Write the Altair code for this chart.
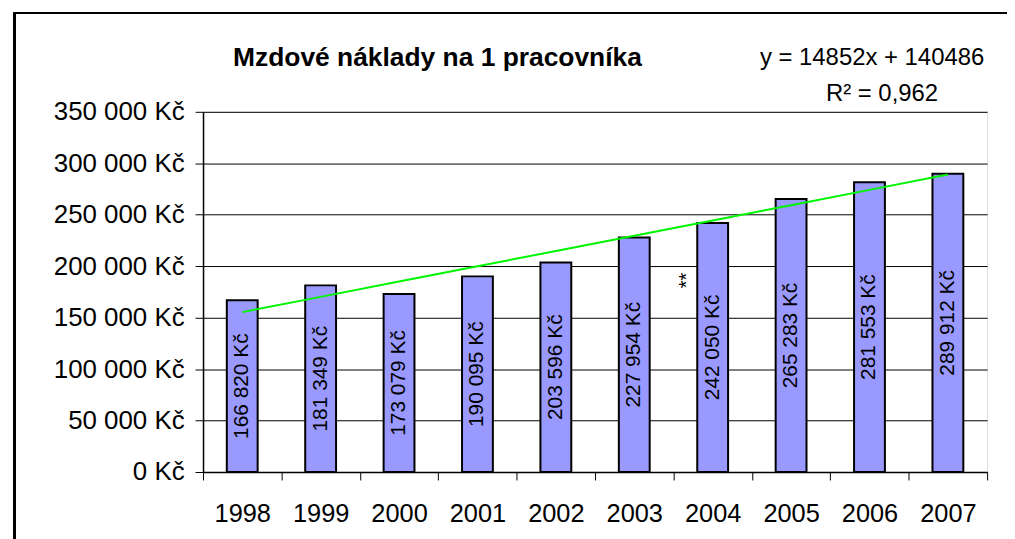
import altair as alt
import pandas as pd

years = ["1998", "1999", "2000", "2001", "2002", "2003", "2004", "2005", "2006", "2007"]
values = [166820, 181349, 173079, 190095, 203596, 227954, 242050, 265283, 281553, 289912]
slope = 14852
intercept = 140486
r2_text = "0,962"
title_text = "Mzdové náklady na 1 pracovníka"

def czk(v):
    return f"{v:,}".replace(",", " ") + " Kč"

df = pd.DataFrame({
    "year": years,
    "value": values,
    "label": [czk(v) for v in values],
    "trend": [slope * (i + 1) + intercept for i in range(len(years))],
})

eq_df = pd.DataFrame({
    "year": ["2006", "2006"],
    "value": [402000, 367000],
    "text": [f"y = {slope}x + {intercept}", f"R² = {r2_text}"],
    "dx": [42, 52],
})
title_df = pd.DataFrame({"year": ["2000"], "value": [402000], "text": [title_text], "dx": [78]})
note_df = pd.DataFrame({"year": ["2004"], "value": [186000], "text": ["**"]})

FONT = "Liberation Sans"

x_enc = alt.X("year:N", sort=years, title=None,
              scale=alt.Scale(domain=years, paddingInner=0, paddingOuter=0),
              axis=alt.Axis(labelAngle=0, labelFontSize=25.5, labelFont=FONT, labelColor="black",
                            tickBand="extent", tickSize=8, tickColor="black",
                            domainColor="black", domainWidth=1.5, labelPadding=22, grid=False))
y_scale = alt.Scale(domain=[0, 350000], nice=False, zero=True)
y_enc = alt.Y("value:Q", scale=y_scale, title=None,
              axis=alt.Axis(values=list(range(0, 350001, 50000)),
                            labelExpr="replace(format(datum.value, ','), ',', ' ') + ' Kč'",
                            labelFontSize=26, labelFont=FONT, labelColor="black",
                            tickSize=8, tickColor="black", labelPadding=11,
                            domainColor="black", domainWidth=1.5,
                            grid=True, gridColor="black", gridWidth=1))

base = alt.Chart(df)

bars = base.mark_bar(size=31, color="#9999FF", stroke="black", strokeWidth=2).encode(
    x=x_enc, y=y_enc)

bar_labels = base.transform_calculate(mid="datum.value / 2").mark_text(
    angle=270, align="center", baseline="middle", fontSize=21, font=FONT, color="black"
).encode(x=alt.X("year:N", sort=years), y=alt.Y("mid:Q", scale=y_scale), text="label:N")

trend = base.mark_line(color="#00F500", strokeWidth=2).encode(
    x=alt.X("year:N", sort=years), y=alt.Y("trend:Q", scale=y_scale))

eq = alt.Chart(eq_df).mark_text(
    align="center", baseline="middle", fontSize=24, font=FONT, color="black"
).encode(x=alt.X("year:N", sort=years), y=alt.Y("value:Q", scale=y_scale),
         text="text:N", xOffset=alt.XOffset("dx:Q", scale=None))

title = alt.Chart(title_df).mark_text(
    align="center", baseline="middle", fontSize=26.5, font=FONT, fontWeight="bold", color="black"
).encode(x=alt.X("year:N", sort=years), y=alt.Y("value:Q", scale=y_scale),
         text="text:N", xOffset=alt.XOffset("dx:Q", scale=None))

note = alt.Chart(note_df).mark_text(
    angle=270, align="center", baseline="middle", fontSize=20, font=FONT, color="black", dy=-26
).encode(x=alt.X("year:N", sort=years), y=alt.Y("value:Q", scale=y_scale), text="text:N")

frame_top = alt.Chart(df).mark_rule(color="black", strokeWidth=1.5).encode(
    x=alt.value(-190), x2=alt.value(830), y=alt.value(-99.5))
frame_left = alt.Chart(df).mark_rule(color="black", strokeWidth=2).encode(
    x=alt.value(-189.5), y=alt.value(-99.5), y2=alt.value(500))

chart = alt.layer(bars, trend, bar_labels, eq, title, note, frame_top, frame_left).properties(
    width=788, height=362,
    autosize=alt.AutoSizeParams(type="none"),
    padding={"left": 196, "top": 103, "right": 20, "bottom": 66},
).configure_view(stroke="#888888", strokeWidth=2).configure(background="white")

chart.save("out.html", embed_options={"renderer": "svg", "actions": False})
